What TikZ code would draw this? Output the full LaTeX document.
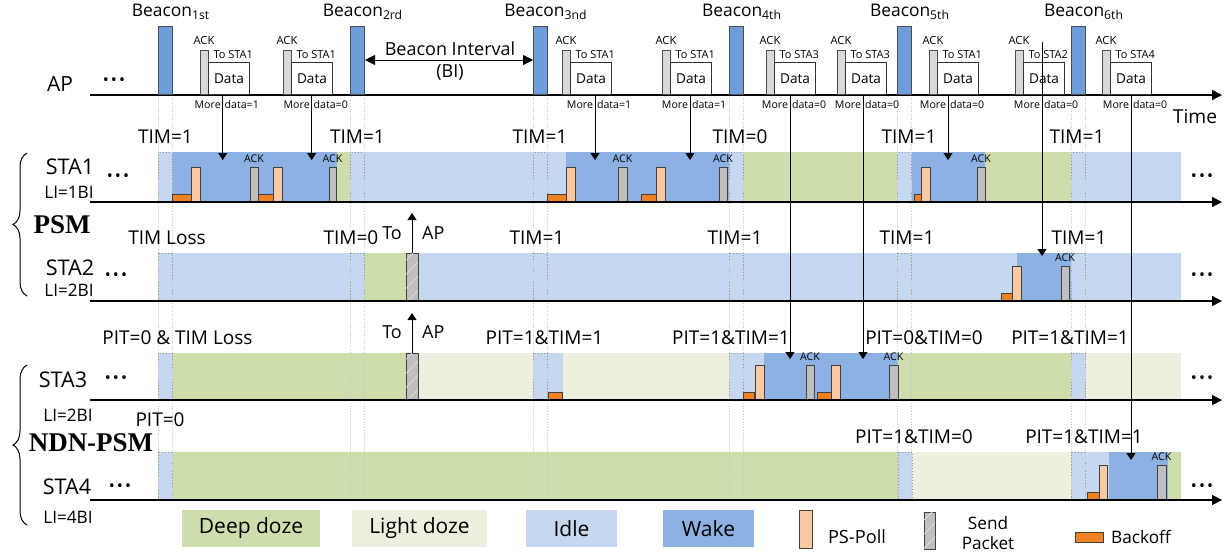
\documentclass[tikz,border=0pt]{standalone}
\usepackage{fontspec}
\setmainfont{Open Sans}
\newfontfamily\psmfont{Liberation Serif}
\usetikzlibrary{arrows.meta,decorations.pathreplacing,patterns.meta}

\definecolor{beaconblue}{HTML}{6D9EDB}
\definecolor{wakeblue}{HTML}{8EB1E3}
\definecolor{idleblue}{HTML}{C6D8EF}
\definecolor{deepgreen}{HTML}{CDDDAC}
\definecolor{lightgreen}{HTML}{EBF1DE}
\definecolor{pollpeach}{HTML}{FAC9A3}
\definecolor{backorange}{HTML}{F08223}
\definecolor{ackgray}{HTML}{BFBFBF}

\newcommand{\threedots}{\textbullet\kern1pt\textbullet\kern1pt\textbullet}

\begin{document}
\begin{tikzpicture}[x=0.5pt,y=-0.5pt,line width=0.5pt,
    fs/.style={font=\fontsize{#1}{#1}\selectfont},
    dotbox/.style={draw=gray!85,densely dotted,line width=0.45pt,fill=idleblue},
    guide/.style={draw=gray!45,densely dotted,line width=0.35pt},
    beaconbar/.style={draw=black!70,fill=beaconblue,inner sep=0,minimum width=7pt,minimum height=34pt,anchor=south west},
    apack/.style={draw=black!70,fill=ackgray!60,inner sep=0,minimum width=4pt,minimum height=22pt,anchor=south west},
    databox/.style={draw=black!80,fill=white,inner sep=0,minimum width=20.5pt,minimum height=16pt,anchor=south west,fs=6.8},
    ackbar/.style={draw=black!75,fill=ackgray},
    pollbar/.style={draw=black!75,fill=pollpeach},
    backbar/.style={draw=black!75,fill=backorange},
    sendbar/.style={draw=black!75,fill=gray!50,postaction={pattern={Lines[angle=45,distance=5pt,line width=0.4pt]},pattern color=gray!25}},
    axis/.style={line width=0.7pt,-{Triangle[width=5pt,length=5pt]}},
    tip/.style={line width=0.5pt,-{Triangle[width=4.5pt,length=3.5pt]}},
    timlab/.style={fs=9.5},
    stalab/.style={fs=10.8},
    lilab/.style={fs=8.6},
    rowack/.style={fs=5.3,inner sep=0},
    leglab/.style={fs=10.5}]
\useasboundingbox (0,0) rectangle (1229,553);

% state bands
\foreach \xa/\xb/\cc in {158/172/idleblue,172/337/wakeblue,337/350/deepgreen,350/566/idleblue,566/729/wakeblue,729/743/idleblue,743/897/deepgreen,897/912/idleblue,912/985/wakeblue,985/1071/deepgreen,1071/1181/idleblue}
  \fill[fill=\cc] (\xa,152) rectangle (\xb,202);
\foreach \xa/\xb/\cc in {158/1017/idleblue,364/406/deepgreen,1017/1071/wakeblue,1071/1181/idleblue}
  \fill[fill=\cc] (\xa,253) rectangle (\xb,301);
\foreach \xa/\xb/\cc in {158/173/idleblue,173/406/deepgreen,418/533/lightgreen,533/563/idleblue,563/729/lightgreen,729/764/idleblue,764/898/wakeblue,898/1071/deepgreen,1071/1086/idleblue,1086/1181/lightgreen}
  \fill[fill=\cc] (\xa,353) rectangle (\xb,400);
\foreach \xa/\xb/\cc in {158/173/idleblue,173/899/deepgreen,899/912/idleblue,912/1071/lightgreen,1071/1109/idleblue,1109/1168/wakeblue,1168/1181/deepgreen}
  \fill[fill=\cc] (\xa,452) rectangle (\xb,500);

% listening windows
\foreach \bx in {158,350,533,729,897,1071} \filldraw[dotbox] (\bx,152) rectangle ++(14,50);
\foreach \bx in {158,350,533,729,897,1071} \filldraw[dotbox] (\bx,253) rectangle ++(14,48);
\foreach \bx in {158,533,729,1071} \filldraw[dotbox] (\bx,353) rectangle ++(14,47);
\foreach \bx in {158,898,1071} \filldraw[dotbox] (\bx,452) rectangle ++(14,48);

% beacon guides
\foreach \bx in {158,350,533,729,897,1071}{
  \draw[guide] (\bx,95) -- (\bx,500);
  \draw[guide] (\bx+14,95) -- (\bx+14,500);
}

% backoff, PS-Poll, ACK
\foreach \xa/\xb/\yb in {172/191/202,258/273/202,547/566/202,641/656/202,914/921/202,1001/1012/301,548/562/400,743/754/400,817/831/400,1087/1099/500}
  \filldraw[backbar] (\xa,\yb-8) rectangle (\xb,\yb);
\foreach \xa/\xb/\yb in {191/200/202,273/282/202,566/575/202,656/665/202,921/930/202,1012/1021/301,755/764/400,831/840/400,1099/1107/500}
  \filldraw[pollbar] (\xa,\yb-35) rectangle (\xb,\yb);
\foreach \xa/\xb/\yb [count=\i] in {250/258/202,329/336/202,618/627/202,719/727/202,977/985/202,1061/1069/301,806/814/400,889/898/400,1157/1166/500}{
  \filldraw[ackbar] (\xa,\yb-35) rectangle (\xb,\yb);
  \node[rowack] (ra\i) at ({(\xa+\xb)/2},{\yb-43}) {ACK};
}

% packets sent to AP
\node[sendbar,inner sep=0,minimum width=6pt,minimum height=24pt] (sp2) at (412,277) {};
\node[sendbar,inner sep=0,minimum width=6pt,minimum height=23.5pt] (sp3) at (412,376.5) {};
\coordinate (up2) at (412,213);
\coordinate (up3) at (412,313);
\draw[tip] (sp2.north) -- (up2);
\draw[tip] (sp3.north) -- (up3);
\node[fs=9,anchor=east] (to2) at (409,233) {To};
\node[fs=9,anchor=west] (ap2) at (415,233) {AP};
\node[fs=9,anchor=east] (to3) at (409,332) {To};
\node[fs=9,anchor=west] (ap3) at (415,332) {AP};

% AP line
\draw[axis] (90,95) -- (1222,95);
\node[fs=10.5] (ap) at (60,84) {AP};
\node[fs=8] (apdots) at (114,82) {\threedots};
\node[fs=9.6] (time) at (1195,117) {Time};

% beacons
\foreach \bx/\lab [count=\i] in {158/1st,350/2rd,533/3nd,729/4th,897/5th,1071/6th}{
  \node[beaconbar] (bc\i) at (\bx,95) {};
  \node[fs=8.7] (bl\i) at (\bx+13,12) {Beacon\textsubscript{\lab}};
}
\coordinate (bi) at (450,60);
\draw[line width=0.5pt,{Triangle[width=5pt,length=5pt]}-{Triangle[width=5pt,length=5pt]}] (bc2.east |- bi) -- (bc3.west |- bi);
\node[fs=9] (bitxt) at (450,49) {Beacon Interval};
\node[fs=9] (bishort) at (450,72) {(BI)};

% buffered data at AP and its delivery
\foreach \g/\m/\who/\ax/\sy/\ty [count=\i] in {200/1/STA1/222.7/95/160,283/0/STA1/311.7/95/160,562/1/STA1/595/95/160,662/1/STA1/690/95/160,766/0/STA3/790/95/359,837/0/STA3/863/95/359,929/0/STA1/948/95/160,1015/0/STA2/1042/42/256,1102/0/STA4/1131/95/460}{
  \node[apack] (ak\i) at (\g,95) {};
  \node[databox] (d\i) at (\g+8,95) {Data};
  \node[fs=5.6,inner sep=0] (ka\i) at (\g+4,40) {ACK};
  \node[fs=5.5,inner sep=0,anchor=west] (tl\i) at (\g+13,55) {To \who};
  \node[fs=5.3,inner sep=0,anchor=east] (mo\i) at (\ax-1.5,104.5) {More};
  \node[fs=5.3,inner sep=0,anchor=west] (md\i) at (\ax+1.5,104.5) {data=\m};
  \coordinate (as\i) at (\ax,\sy);
  \coordinate (at\i) at (\ax,\ty);
  \draw[tip] (as\i) -- (at\i);
}

% time axes of the stations
\draw[axis] (90,202) -- (1222,202);
\draw[axis] (90,301) -- (1222,301);
\draw[axis] (90,400) -- (1222,400);
\draw[axis] (90,500) -- (1222,500);

% station names
\node[stalab] (s1) at (70,167) {STA1};
\node[lilab] (l1) at (69,192) {LI=1BI};
\node[fs=8] (d1r) at (118,178) {\threedots};
\node[fs=8] (d1e) at (1202,178) {\threedots};
\node[stalab] (s2) at (70,268) {STA2};
\node[lilab] (l2) at (69,290) {LI=2BI};
\node[fs=8] (d2r) at (116,277) {\threedots};
\node[fs=8] (d2e) at (1202,277) {\threedots};
\node[stalab] (s3) at (63,380) {STA3};
\node[lilab] (l3) at (68,415) {LI=2BI};
\node[fs=8] (d3r) at (116,380) {\threedots};
\node[fs=8] (d3e) at (1202,380) {\threedots};
\node[stalab] (s4) at (67,487) {STA4};
\node[lilab] (l4) at (68,517) {LI=4BI};
\node[fs=8] (d4r) at (120,488) {\threedots};
\node[fs=8] (d4e) at (1202,488) {\threedots};

% TIM / PIT indications
\foreach \x/\y/\tx [count=\i] in {165.5/137/TIM=1,357.5/137/TIM=1,540/137/TIM=1,740/137/TIM=0,909/137/TIM=1,1077/137/TIM=1,
    167/238/TIM Loss,351/238/TIM=0,537/238/TIM=1,735/238/TIM=1,907/238/TIM=1,1079/238/TIM=1,
    177.5/338/PIT=0 \& TIM Loss,544.5/338/PIT=1\&TIM=1,731/338/PIT=1\&TIM=1,924/338/PIT=0\&TIM=0,1070/338/PIT=1\&TIM=1,
    160/420/PIT=0,914/437/PIT=1\&TIM=0,1084/437/PIT=1\&TIM=1}
  \node[timlab] (tm\i) at (\x,\y) {\tx};

% schemes
\draw[decorate,decoration={brace,amplitude=7pt}] (27,296) -- (27,153);
\node[font=\psmfont\bfseries\fontsize{13.5}{14}\selectfont] (psm) at (62,225) {PSM};
\draw[decorate,decoration={brace,amplitude=7pt}] (27,525) -- (27,365);
\node[font=\psmfont\bfseries\fontsize{13.5}{14}\selectfont] (ndn) at (91,443) {NDN-PSM};

% legend
\node[leglab,fill=deepgreen,minimum width=69pt,minimum height=18.5pt] (lg1) at (251,528.5) {Deep doze};
\node[leglab,fill=lightgreen,minimum width=67.5pt,minimum height=18.5pt] (lg2) at (419.5,528.5) {Light doze};
\node[leglab,fill=idleblue,minimum width=45.5pt,minimum height=18.5pt] (lg3) at (571.5,528.5) {Idle};
\node[leglab,fill=wakeblue,minimum width=45.5pt,minimum height=18.5pt] (lg4) at (708.5,528.5) {Wake};
\node[pollbar,inner sep=0,minimum width=6.5pt,minimum height=19pt] (lg5) at (805.5,529) {};
\node[fs=9.1] (lt5) at (857,537) {PS-Poll};
\node[sendbar,inner sep=0,minimum width=5.5pt,minimum height=18.5pt] (lg6) at (929.5,530.5) {};
\node[align=center,font=\fontsize{8.6}{10}\selectfont] (lt6) at (988,533) {Send\\Packet};
\node[backbar,inner sep=0,minimum width=14pt,minimum height=5pt] (lg7) at (1089,537) {};
\node[fs=8.6] (lt7) at (1141,537) {Backoff};
\end{tikzpicture}
\end{document}
